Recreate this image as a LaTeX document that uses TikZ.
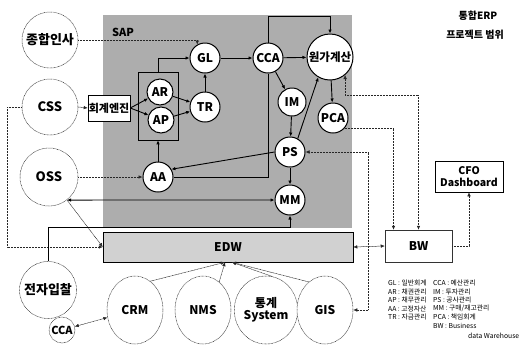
\documentclass[tikz,border=0pt]{standalone}
\usepackage{fontspec}
\setmainfont{Noto Sans CJK KR}
\usetikzlibrary{arrows.meta,shapes.geometric}
\begin{document}
\begin{tikzpicture}[x=1pt,y=-1pt,
  fs/.style={font=\bfseries\fontsize{#1}{#1}\selectfont},
  sc/.style={circle,draw=black,line width=1pt,fill=white,inner sep=0pt,minimum size=30pt,fs=12},
  bc/.style={circle,draw=black!80,dash pattern=on 0.8pt off 0.6pt,line width=0.5pt,fill=white,inner sep=0pt,minimum size=56pt,fs=13},
  be/.style={ellipse,draw=black!80,dash pattern=on 0.8pt off 0.6pt,line width=0.5pt,fill=white,inner sep=0pt,minimum width=56pt,minimum height=68pt,fs=12},
  ln/.style={line width=0.9pt,black},
  ol/.style={line width=0.5pt,black!85,dash pattern=on 1pt off 0.5pt},
  tip/.style={-{Latex[length=4pt,width=3.5pt]}},
  tipb/.style={{Latex[length=4pt,width=3.5pt]}-{Latex[length=4pt,width=3.5pt]}},
  lg/.style={anchor=west,inner sep=0pt,font=\fontsize{6.8}{7}\selectfont}]
\useasboundingbox (0,0) rectangle (524,349);
% SAP area
\fill[black!32] (103,15) rectangle (352,228);
\node[fs=11] (sap) at (123,32) {SAP};
% title
\node[fs=10] (t1) at (478,16) {통합ERP};
\node[fs=10] (t2) at (475,35) {프로젝트 범위};
% outer systems
\node[bc] (jh) at (50,40) {종합인사};
\node[bc] (css) at (50,107) {CSS};
\node[bc,minimum size=58pt] (oss) at (49,177) {OSS};
\node[bc,minimum size=57pt] (jj) at (48,290) {전자입찰};
\node[bc,minimum size=26pt,fs=11] (cca2) at (62,330) {CCA};
% SAP modules
\node[draw,line width=0.6pt,minimum width=40pt,minimum height=68pt] (arbox) at (158,106) {};
\node[draw,line width=0.6pt,fill=white,minimum width=42pt,minimum height=26pt,inner sep=0pt,fs=11] (hg) at (109,108) {회계엔진};
\node[sc,minimum size=26pt] (AR) at (160,92) {AR};
\node[sc,minimum size=26pt] (AP) at (161,120) {AP};
\node[sc] (GL) at (205,58) {GL};
\node[sc] (TR) at (205,107) {TR};
\node[sc] (AA) at (158,177) {AA};
\node[sc] (CCA) at (268,58) {CCA};
\node[sc,minimum size=46pt,fs=11.5] (wg) at (330,57) {원가계산};
\node[sc,minimum size=28pt] (IM) at (292,102) {IM};
\node[sc] (PCA) at (333,118) {PCA};
\node[sc] (PS) at (290,152) {PS};
\node[sc] (MM) at (290,200) {MM};
% EDW, BW, CFO
\node[draw,line width=0.5pt,fill=black!18,minimum width=250pt,minimum height=30pt,inner sep=0pt,fs=12] (edw) at (228,247) {EDW};
\node[draw=black!80,line width=0.5pt,fill=white,minimum width=67pt,minimum height=32pt,inner sep=0pt,fs=12] (bw) at (418.5,246) {BW};
\node[draw,line width=0.6pt,fill=white,minimum width=68pt,minimum height=31pt,inner sep=0pt,align=center,fs=10.5] (cfo) at (469,176.5) {CFO\\[1pt]Dashboard};
% bottom systems
\node[be] (crm) at (135,310) {CRM};
\node[be] (nms) at (203,310) {NMS};
\node[be,minimum width=52pt,align=center] (tg) at (266,310) {통계\\System};
\node[be] (gis) at (325,310) {GIS};
% connectors inside SAP
\draw[ol,tip] (jh.east) -| (GL.120);
\draw[ol,tip] (css.east) -- (hg.west);
\draw[ln,tip] (hg.east) -- (AR);
\draw[ln,tip] (hg.east) -- (AP);
\draw[ln,tip] (AR) -- (TR);
\draw[ln,tip] (AP) -- (TR);
\draw[ln,tip] (arbox.north) |- (GL.west);
\draw[ln,tip] (AA) -- (arbox.south);
\draw[ln,tip] (TR) -- (GL);
\draw[ln,tip] (GL) -- (CCA);
\draw[ln,tip] (CCA) -- (wg);
\draw[ln,tip] (CCA.north) -- ++(0,-26) -| (wg.north);
\draw[ln,tip] (CCA) -- (IM);
\draw[ln,tip] (IM) -- (PS);
\draw[ln,tip] (PS.60) -- (wg.240);
\draw[ln,tip] (wg) -- (PCA);
\draw[ln,tip] (PS) -- (MM);
\draw[ln] (CCA.south) |- (AA.east);
\draw[ln,tip] (PS.west) -- (AA.30);
\draw[ol,tip] (oss.east) -- (AA.west);
\draw[ln,tipb] (oss.-52) -- (MM.west);
\draw[ol,tip] (oss.-52) -- (edw.west);
\draw[ol,tip] (css.west) -- ++(-15,0) |- (edw.west);
\draw[ln,tip] (jj.north) -- ++(0,-34) -| (MM.south);
% EDW / BW links
\draw[ol,tipb] (edw.east) -- (bw.west);
\draw[ol,tipb] (PS.east) -- ++(63,0) |- (gis.east);
\draw[ol,tipb] (wg.-50) -- ++(0,20) -| (bw.north);
\draw[ol,tip] (PCA.-40) -| ([xshift=-25pt]bw.north);
\draw[ol,tip] (bw.east) -| (cfo.south);
\draw[ol,tipb] (cca2) -- (crm);
\coordinate (e1) at ([xshift=-3pt]edw.south);
\coordinate (e2) at ([xshift=4pt]edw.south);
\draw[ol,tip] (crm.62) -- (e1);
\draw[ol,tip] (nms.60) -- (e1);
\draw[ol,tip] (tg.80) -- (e2);
\draw[ol,tip] (gis.120) -- (e2);
% legend
\node[lg] (l1) at (388,283) {GL : 일반회계};
\node[lg] (l2) at (388,291.5) {AR : 채권관리};
\node[lg] (l3) at (388,300) {AP : 채무관리};
\node[lg] (l4) at (388,308.5) {AA : 고정자산};
\node[lg] (l5) at (388,317) {TR : 자금관리};
\node[lg] (r1) at (433,283) {CCA : 예산관리};
\node[lg] (r2) at (433,291.5) {IM : 투자관리};
\node[lg] (r3) at (433,300) {PS : 공사관리};
\node[lg] (r4) at (433,308.5) {MM : 구매/재고관리};
\node[lg] (r5) at (433,317) {PCA : 책임회계};
\node[lg] (r6) at (433,326) {BW : Business};
\node[lg] (r7) at (468,336) {data Warehouse};
\end{tikzpicture}
\end{document}
